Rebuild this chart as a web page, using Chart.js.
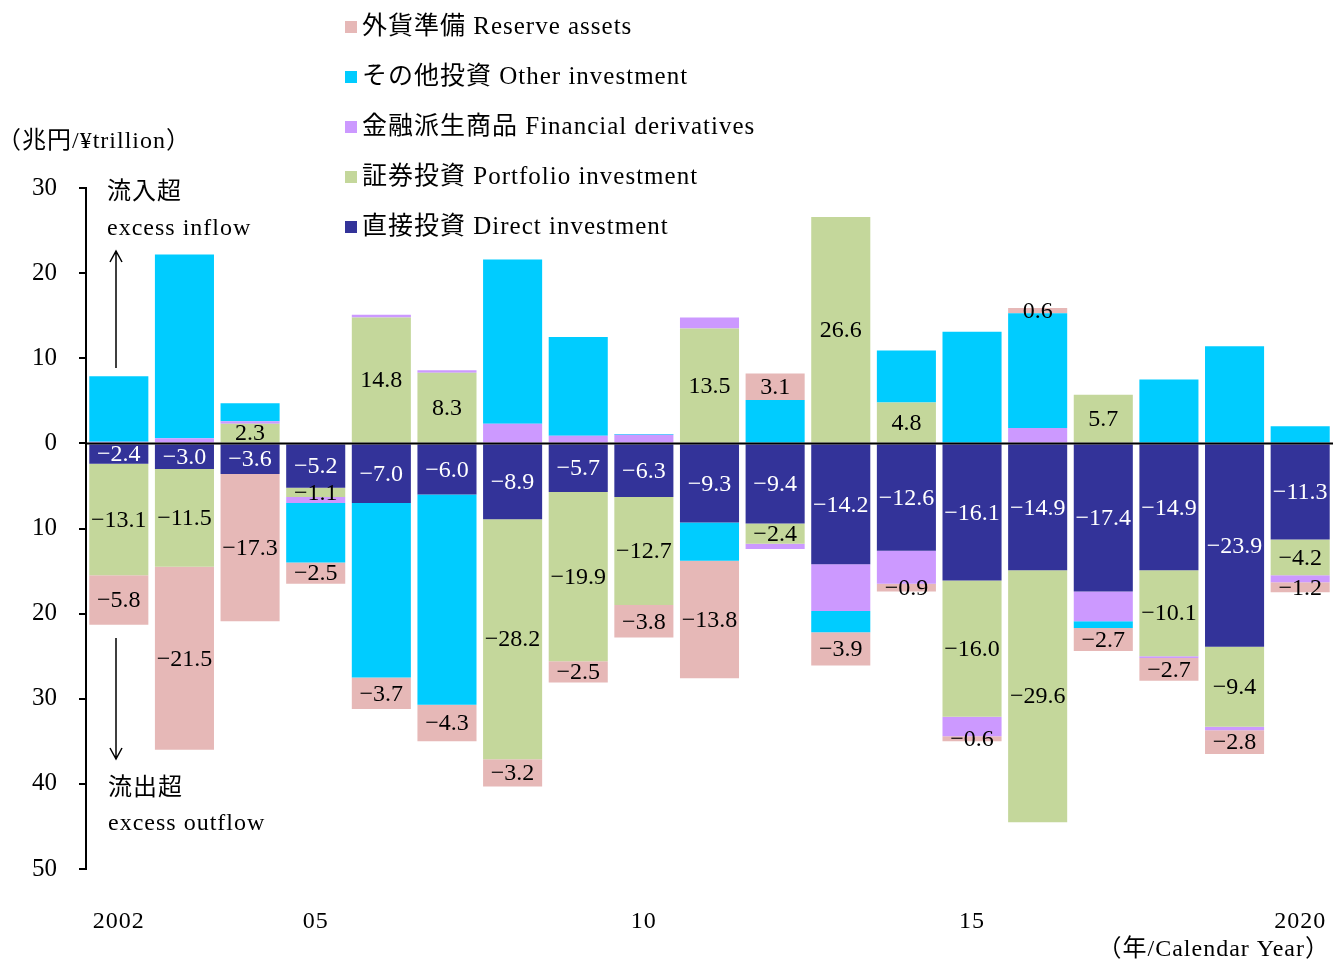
<!DOCTYPE html>
<html>
<head>
<meta charset="utf-8">
<script src="https://cdn.jsdelivr.net/npm/chart.js@4"></script>
<style>
  body { margin: 0; background: #fff; }
  #wrap { width: 1333px; height: 961px; position: relative; overflow: hidden; }
</style>
</head>
<body>
<div id="wrap"><canvas id="myChart"></canvas></div>
<script>
// ===================== DATA =====================
const years = ["2002","2003","2004","2005","2006","2007","2008","2009","2010","2011",
  "2012","2013","2014","2015","2016","2017","2018","2019","2020"];
const yearLabels = ["2002","","","05","","","","","10","","","","","15","","","","","2020"];

const direct      = [-2.4, -3.0, -3.6, -5.2, -7.0, -6.0, -8.9, -5.7, -6.3, -9.3, -9.4, -14.2, -12.6, -16.1, -14.9, -17.4, -14.9, -23.9, -11.3];
const portfolio   = [-13.1, -11.5, 2.3, -1.1, 14.8, 8.3, -28.2, -19.9, -12.7, 13.5, -2.4, 26.6, 4.8, -16.0, -29.6, 5.7, -10.1, -9.4, -4.2];
const derivatives = [0.2, 0.6, 0.3, -0.7, 0.3, 0.3, 2.3, 0.9, 1.0, 1.3, -0.6, -5.5, -3.9, -2.3, 1.8, -3.5, -0.2, -0.4, -0.8];
const other       = [7.7, 21.6, 2.1, -7.0, -20.5, -24.7, 19.3, 11.6, 0.1, -4.5, 5.1, -2.5, 6.1, 13.1, 13.5, -0.8, 7.5, 11.4, 2.0];
const reserve     = [-5.8, -21.5, -17.3, -2.5, -3.7, -4.3, -3.2, -2.5, -3.8, -13.8, 3.1, -3.9, -0.9, -0.6, 0.6, -2.7, -2.7, -2.8, -1.2];

const yTicks = [30, 20, 10, 0, -10, -20, -30, -40, -50];

const FONT = "'Liberation Serif', 'Noto Sans CJK JP', serif";

// ===================== PLUGIN: texts, labels, zero line =====================
const extras = {
  id: "extras",
  afterDatasetsDraw(chart) {
    const { ctx, chartArea, scales } = chart;
    const x = scales.x, y = scales.y;
    ctx.save();

    // zero line
    ctx.strokeStyle = "#000";
    ctx.lineWidth = 2;
    ctx.beginPath();
    ctx.moveTo(chartArea.left, y.getPixelForValue(0));
    ctx.lineTo(chartArea.right, y.getPixelForValue(0));
    ctx.stroke();

    // value labels
    ctx.font = "24px " + FONT;
    ctx.textAlign = "center";
    ctx.textBaseline = "middle";
    chart.data.datasets.forEach((ds, di) => {
      if (!ds.showLabel) return;
      const meta = chart.getDatasetMeta(di);
      meta.data.forEach((bar, i) => {
        const v = ds.data[i];
        if (v === null || v === 0) return;
        const p = bar.getProps(["x", "y", "base"], true);
        ctx.fillStyle = ds.labelColor;
        const txt = (v < 0 ? "\u2212" : "") + Math.abs(v).toFixed(1);
        ctx.fillText(txt, p.x, (p.y + p.base) / 2 + 1);
      });
    });

    // x labels
    ctx.fillStyle = "#000";
    ctx.letterSpacing = "1px";
    yearLabels.forEach((lab, i) => {
      if (lab) ctx.fillText(lab, x.getPixelForValue(i), 922);
    });

    // annotations
    ctx.textAlign = "left";
    ctx.fillText("（兆円/¥trillion）", -3, 142);
    ctx.fillText("流入超", 107, 193);
    ctx.fillText("excess inflow", 107, 229);
    ctx.fillText("流出超", 108, 789);
    ctx.fillText("excess outflow", 108, 824);
    ctx.textAlign = "right";
    ctx.fillText("（年/Calendar Year）", 1330, 950);

    // arrows
    ctx.letterSpacing = "0px";
    ctx.lineWidth = 1.5;
    ctx.beginPath();
    ctx.moveTo(116, 368); ctx.lineTo(116, 251);
    ctx.moveTo(110, 262); ctx.lineTo(116, 251); ctx.lineTo(122, 262);
    ctx.moveTo(116, 638); ctx.lineTo(116, 759);
    ctx.moveTo(110, 748); ctx.lineTo(116, 759); ctx.lineTo(122, 748);
    ctx.stroke();

    // legend (reverse order, top = reserve)
    ctx.textAlign = "left";
    ctx.font = "25px " + FONT;
    ctx.letterSpacing = "1px";
    const items = chart.data.datasets.slice().reverse();
    items.forEach((ds, k) => {
      const cy = 27 + k * 50;
      ctx.fillStyle = ds.backgroundColor;
      ctx.fillRect(345, cy - 6, 12, 12);
      ctx.fillStyle = "#000";
      ctx.fillText(ds.label, 362, cy);
    });

    ctx.restore();
  }
};

// ===================== CHART =====================
const ctx = document.getElementById("myChart");

new Chart(ctx, {
  type: "bar",
  data: {
    labels: years,
    datasets: [
      { label: "直接投資 Direct investment", data: direct, backgroundColor: "#333399", showLabel: true, labelColor: "#fff" },
      { label: "証券投資 Portfolio investment", data: portfolio, backgroundColor: "#C4D79B", showLabel: true, labelColor: "#000" },
      { label: "金融派生商品 Financial derivatives", data: derivatives, backgroundColor: "#CC99FF", showLabel: false },
      { label: "その他投資 Other investment", data: other, backgroundColor: "#00CCFF", showLabel: false },
      { label: "外貨準備 Reserve assets", data: reserve, backgroundColor: "#E6B8B7", showLabel: true, labelColor: "#000" },
    ],
  },
  options: {
    responsive: true,
    maintainAspectRatio: false,
    animation: false,
    layout: { padding: { top: 188, right: -3, bottom: 0, left: 0 } },
    datasets: { bar: { barPercentage: 0.9, categoryPercentage: 1.0 } },
    plugins: { legend: { display: false }, tooltip: { enabled: false } },
    scales: {
      x: {
        stacked: true,
        grid: { display: false },
        border: { display: false },
        ticks: { display: false },
        afterFit(scale) { scale.height = 92; },
      },
      y: {
        stacked: true,
        min: -50,
        max: 30,
        afterBuildTicks(scale) { scale.ticks = yTicks.map(v => ({ value: v })); },
        ticks: {
          color: "#000",
          font: { family: FONT, size: 25 },
          padding: 22,
          callback: v => String(Math.abs(v)),
        },
        grid: { drawOnChartArea: false, color: "#000", tickColor: "#000", tickLength: 7, lineWidth: 2 },
        border: { display: true, color: "#000", width: 2 },
        afterFit(scale) { scale.width = 86; },
      },
    },
  },
  plugins: [extras],
});
</script>
</body>
</html>
